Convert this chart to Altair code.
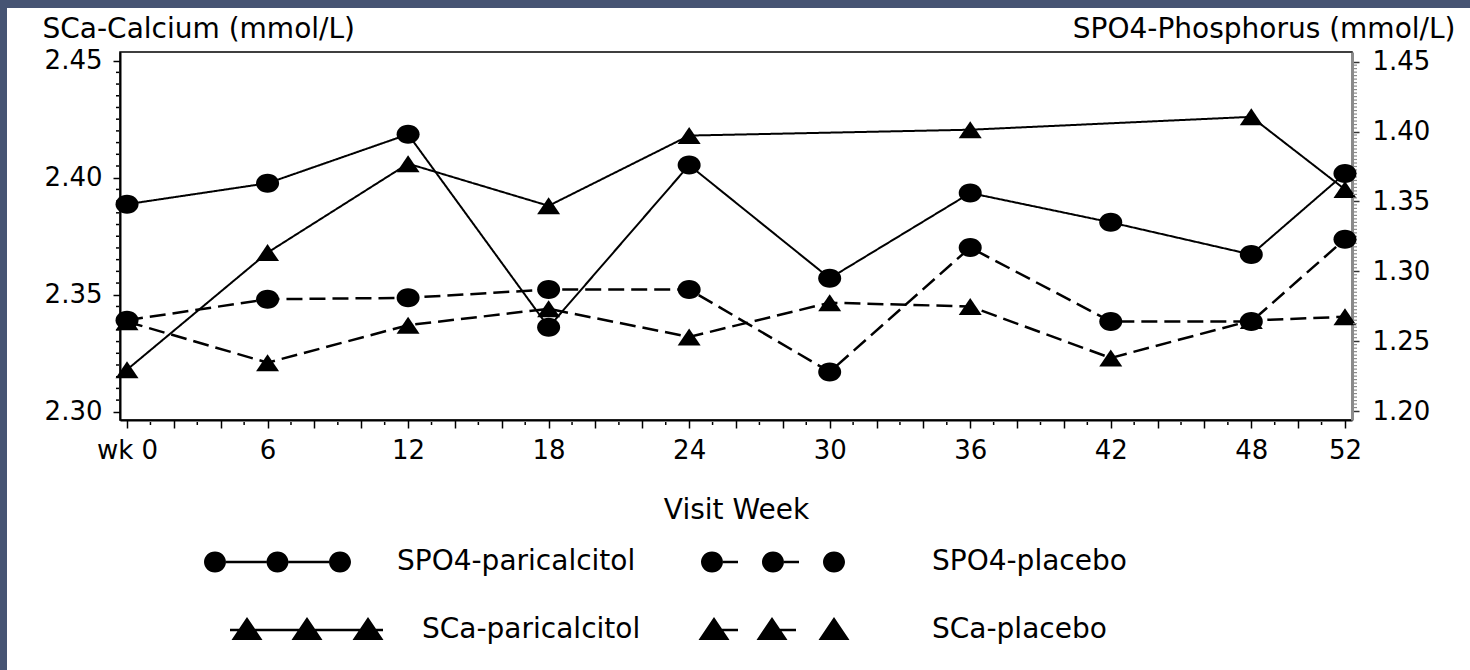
import altair as alt
import pandas as pd

# ---------------- data ----------------
weeks = [0, 6, 12, 18, 24, 30, 36, 42, 48, 52]
spo4_paricalcitol = [1.348, 1.363, 1.398, 1.260, 1.376, 1.295, 1.356, 1.335, 1.312, 1.370]
spo4_placebo = [1.265, 1.280, 1.281, 1.287, 1.287, 1.228, 1.317, 1.264, 1.264, 1.323]
sca_paricalcitol = [2.318, 2.368, 2.406, 2.388, 2.418, None, 2.4205, None, 2.426, 2.395]
sca_placebo = [2.3385, 2.321, 2.337, 2.344, 2.332, 2.3466, 2.345, 2.323, 2.339, 2.3406]
series_names = ["SPO4-paricalcitol", "SCa-paricalcitol", "SPO4-placebo", "SCa-placebo"]
arms = ["paricalcitol", "placebo"]

x_even_ticks = list(range(0, 53, 2))
x_odd_ticks = list(range(1, 53, 2))
left_major_ticks = [2.30, 2.35, 2.40, 2.45]
left_minor_ticks = [round(2.300 + 0.005 * i, 4) for i in range(31) if i % 10 != 0]
right_major_ticks = [1.20, 1.25, 1.30, 1.35, 1.40, 1.45]
right_minor_ticks = [round(1.200 + 0.0025 * i, 5) for i in range(101) if i % 20 != 0]


def long(values, series, arm):
    rows = []
    for w, v in zip(weeks, values):
        if v is not None:
            rows.append({"week": w, "value": v, "series": series, "arm": arm})
    return rows


ca_df = pd.DataFrame(long(sca_paricalcitol, "SCa-paricalcitol", "paricalcitol")
                     + long(sca_placebo, "SCa-placebo", "placebo"))
p_df = pd.DataFrame(long(spo4_paricalcitol, "SPO4-paricalcitol", "paricalcitol")
                    + long(spo4_placebo, "SPO4-placebo", "placebo"))

FONT = "DejaVu Sans"


# ---------------- symbol paths (pixel units when size = 4) ----------------
def fmt(v):
    return f"{v:.2f}"


def ellipse(cx, cy, rx, ry):
    k = 0.5523
    return (f"M{fmt(cx-rx)},{fmt(cy)} "
            f"C{fmt(cx-rx)},{fmt(cy-k*ry)} {fmt(cx-k*rx)},{fmt(cy-ry)} {fmt(cx)},{fmt(cy-ry)} "
            f"C{fmt(cx+k*rx)},{fmt(cy-ry)} {fmt(cx+rx)},{fmt(cy-k*ry)} {fmt(cx+rx)},{fmt(cy)} "
            f"C{fmt(cx+rx)},{fmt(cy+k*ry)} {fmt(cx+k*rx)},{fmt(cy+ry)} {fmt(cx)},{fmt(cy+ry)} "
            f"C{fmt(cx-k*rx)},{fmt(cy+ry)} {fmt(cx-rx)},{fmt(cy+k*ry)} {fmt(cx-rx)},{fmt(cy)} Z")


def bar(x0, x1, h):
    return f"M{fmt(x0)},{fmt(-h)} L{fmt(x1)},{fmt(-h)} L{fmt(x1)},{fmt(h)} L{fmt(x0)},{fmt(h)} Z"


def tri(cx, w, top, bot):
    return f"M{fmt(cx-w)},{fmt(bot)} L{fmt(cx)},{fmt(-top)} L{fmt(cx+w)},{fmt(bot)} Z"


CIRCLE = ellipse(0, 0, 11.5, 9.5)
TRIANGLE = tri(0, 11.5, 8.5, 8.5)

leg_circ_solid = " ".join([ellipse(c, 0, 11, 10.5) for c in (11, 73.5, 136)]
                          + [bar(22, 62.5, 1.2), bar(84.5, 125, 1.2)])
leg_circ_dash = " ".join([ellipse(c, 0, 11, 10.5) for c in (11, 72, 133)]
                         + [bar(22, 37, 1.3), bar(83, 98, 1.3)])
leg_tri_solid = " ".join([tri(c, 15.5, 13, 10) for c in (43, 103, 164)]
                         + [bar(26, 179, 1.2)])
leg_tri_dash = " ".join([tri(c, 15.5, 13, 10) for c in (13, 71, 133)]
                        + [bar(21, 37, 1.3), bar(79, 95, 1.3)])
legend_paths = [leg_circ_solid, leg_tri_solid, leg_circ_dash, leg_tri_dash]
# legend placement: (legendX, legendY, labelOffset) for each entry
legend_layout = [(70, 496, 179), (70, 564, 204), (567, 496, 217), (567, 564, 217)]

# ---------------- scales / axes ----------------
x_scale = alt.Scale(domain=[-0.3, 52.3], nice=False, zero=False)
yl_scale = alt.Scale(domain=[2.2965, 2.4537], nice=False, zero=False)
yr_scale = alt.Scale(domain=[1.1936, 1.4569], nice=False, zero=False)

x_enc = alt.X(
    "week:Q", scale=x_scale,
    axis=alt.Axis(
        values=x_even_ticks,
        labelExpr="datum.value == 0 ? 'wk 0' : ((datum.value % 6 == 0 || datum.value == 52) ? datum.label : '')",
        tickSize=8, labelOverlap=False, labelFlush=False, grid=False,
        domainColor="black", domainWidth=2, tickColor="black", tickWidth=1.5,
        labelFont=FONT, labelFontSize=26, labelColor="black", labelPadding=9,
        title="Visit Week", titleFont=FONT, titleFontSize=28, titleFontWeight="normal",
        titleColor="black", titleY=98, titleBaseline="alphabetic",
    ),
)

y_left = alt.Y(
    "value:Q", scale=yl_scale,
    axis=alt.Axis(
        orient="left", values=left_major_ticks, format=".2f",
        tickSize=7, labelOverlap=False, labelFlush=False, grid=False,
        domainColor="black", domainWidth=2, tickColor="black", tickWidth=1.5,
        labelFont=FONT, labelFontSize=26, labelColor="black", labelPadding=11,
        title="SCa-Calcium (mmol/L)", titleFont=FONT, titleFontSize=28,
        titleFontWeight="normal", titleColor="black", titleAngle=0,
        titleX=-78, titleY=-15, titleAlign="left", titleBaseline="alphabetic",
    ),
)

y_right = alt.Y(
    "value:Q", scale=yr_scale,
    axis=alt.Axis(
        orient="right", values=right_major_ticks, format=".2f",
        tickSize=7, tickColor="#333333", labelOverlap=False, labelFlush=False, grid=False,
        domainColor="#8a8a8a", domainWidth=3, tickWidth=1.5,
        labelFont=FONT, labelFontSize=26, labelColor="black", labelPadding=13,
        title="SPO4-Phosphorus (mmol/L)", titleFont=FONT, titleFontSize=28,
        titleFontWeight="normal", titleColor="black", titleAngle=0,
        titleX=103, titleY=-15, titleAlign="right", titleBaseline="alphabetic",
    ),
)

dash_enc = alt.StrokeDash("arm:N", scale=alt.Scale(domain=arms, range=[[1, 0], [16, 7]]), legend=None)
width_enc = alt.StrokeWidth("arm:N", scale=alt.Scale(domain=arms, range=[2, 2.5]), legend=None)

# ---------------- layers ----------------
frame = alt.Data(values=[{"a": 0}])
top_strip = alt.Chart(frame).mark_rect(color="#465473").encode(
    x=alt.value(-120), x2=alt.value(1350), y=alt.value(-52), y2=alt.value(-44)
)
left_strip = alt.Chart(frame).mark_rect(color="#465473").encode(
    x=alt.value(-120), x2=alt.value(-113), y=alt.value(-52), y2=alt.value(618)
)

# minor ticks drawn through the scales
x_minor = alt.Chart(pd.DataFrame({"week": x_odd_ticks})).mark_rule(
    color="black", strokeWidth=1.5
).encode(x=alt.X("week:Q", scale=x_scale), y=alt.value(370), y2=alt.value(373))

yl_minor = alt.Chart(pd.DataFrame({"value": left_minor_ticks})).mark_rule(
    color="black", strokeWidth=1.5
).encode(y=alt.Y("value:Q", scale=yl_scale), x=alt.value(-4), x2=alt.value(-1))

yr_minor = alt.Chart(pd.DataFrame({"value": right_minor_ticks})).mark_rule(
    color="#8a8a8a", strokeWidth=1.2
).encode(y=alt.Y("value:Q", scale=yr_scale), x=alt.value(1233), x2=alt.value(1237))

ca_line = alt.Chart(ca_df).mark_line(color="black").encode(
    x=x_enc, y=y_left, strokeDash=dash_enc, strokeWidth=width_enc, detail="series:N"
)
ca_pts = alt.Chart(ca_df).mark_point(
    filled=True, color="black", opacity=1, size=4, shape=TRIANGLE, strokeWidth=0
).encode(x=x_enc, y=y_left)
ca_layer = alt.layer(yl_minor, ca_line, ca_pts)

p_line = alt.Chart(p_df).mark_line(color="black").encode(
    x=x_enc, y=y_right, strokeDash=dash_enc, strokeWidth=width_enc, detail="series:N"
)
p_pts = alt.Chart(p_df).mark_point(
    filled=True, color="black", opacity=1, size=4, shape=CIRCLE, strokeWidth=0
).encode(x=x_enc, y=y_right)
p_layer = alt.layer(yr_minor, p_line, p_pts)

legend_layers = []
for name, path, (lx, ly, loff) in zip(series_names, legend_paths, legend_layout):
    legend_layers.append(
        alt.Chart(pd.DataFrame({"series": [name]})).transform_filter("false").mark_point(
            filled=True, color="black", opacity=1
        ).encode(
            shape=alt.Shape(
                "series:N",
                scale=alt.Scale(domain=[name], range=[path]),
                legend=alt.Legend(
                    title=None, orient="none", legendX=lx, legendY=ly,
                    labelOffset=loff, symbolSize=4,
                    symbolFillColor="black", symbolStrokeWidth=0, symbolOpacity=1,
                    labelFont=FONT, labelFontSize=28, labelColor="black", labelLimit=0,
                    padding=0,
                ),
            )
        )
    )

chart = alt.layer(
    top_strip, left_strip, x_minor, ca_layer, p_layer, *legend_layers
).resolve_scale(
    y="independent", shape="independent"
).properties(
    width=1232, height=368,
    padding={"left": 120, "top": 52, "right": 118, "bottom": 250},
    autosize=alt.AutoSizeParams(type="none"),
    background="white",
).configure_view(stroke="black", strokeWidth=1.5)

chart.save("out.html", embed_options={"renderer": "svg", "actions": False})
